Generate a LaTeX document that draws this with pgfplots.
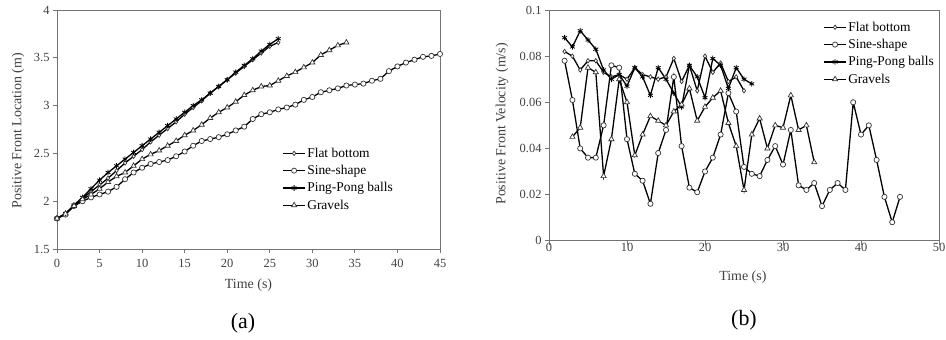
\documentclass[border=0pt]{standalone}
\usepackage{fontspec}
\setmainfont{Liberation Serif}
\usepackage{pgfplots}
\pgfplotsset{compat=1.18}
\pgfplotsset{
  common/.style={
    scale only axis,
    axis line style={black!55, line width=0.8bp},
    tick style={black!55, line width=0.8bp},
    tick align=outside, tick pos=left,
    major tick length=4bp,
    ticklabel style={font=\fontsize{12.5}{14}\selectfont, text=black!75},
    /pgf/number format/assume math mode=true,
    label style={font=\fontsize{14}{16}\selectfont, text=black!75},
    legend cell align=left,
    legend image code/.code={\draw[line width=1.4bp, black, mark repeat=2,mark phase=2,##1] plot coordinates {(0bp,0bp) (11bp,0bp) (22bp,0bp)};},
    every axis plot/.append style={line width=1.3bp, black},
  },
  flat/.style={mark=diamond*, mark size=2.2bp, mark options={draw=black!80, fill=white, line width=0.7bp}},
  sine/.style={mark=*, mark size=2.6bp, mark options={draw=black!80, fill=white, line width=0.7bp}},
  ping/.style={mark=asterisk, mark size=2.8bp, mark options={draw=black, line width=0.8bp}},
  grav/.style={mark=triangle*, mark size=3bp, mark options={draw=black!80, fill=white, line width=0.7bp}},
}
\begin{document}
\begin{tikzpicture}[x=1bp,y=1bp]
\path[use as bounding box] (0,0) rectangle (946,339);
\begin{axis}[common, at={(57bp,90bp)}, anchor=south west,
  width=383bp, height=239bp,
  xmin=0, xmax=45, ymin=1.5, ymax=4,
  xtick={0,5,...,45}, ytick={1.5,2,2.5,3,3.5,4},
  xticklabel style={yshift=-3bp},
  xlabel={Time (s)}, ylabel={Positive Front Location (m)},
  xlabel style={at={(axis description cs:0.5,-0.151)}, anchor=center},
  ylabel style={at={(axis description cs:-0.102,0.494)}, anchor=center},
  legend style={draw=none, fill=none, at={(rel axis cs:0.588,0.43)}, anchor=north west,
    font=\fontsize{13.5}{15}\selectfont, row sep=3.5bp, inner sep=0pt, nodes={inner sep=1.5bp}},
]
\addplot[flat] coordinates {(0,1.82)(1,1.87)(2,1.95)(3,2.03)(4,2.10)(5,2.17)(6,2.24)(7,2.32)(8,2.40)(9,2.47)(10,2.54)(11,2.62)(12,2.69)(13,2.76)(14,2.83)(15,2.91)(16,2.98)(17,3.05)(18,3.13)(19,3.20)(20,3.27)(21,3.34)(22,3.41)(23,3.48)(24,3.55)(25,3.62)(26,3.66)};
\addlegendentry{Flat bottom}
\addplot[sine] coordinates {(0,1.82)(1,1.86)(2,1.95)(3,2.00)(4,2.04)(5,2.07)(6,2.10)(7,2.15)(8,2.23)(9,2.30)(10,2.35)(11,2.39)(12,2.41)(13,2.43)(14,2.47)(15,2.52)(16,2.58)(17,2.63)(18,2.65)(19,2.67)(20,2.70)(21,2.74)(22,2.78)(23,2.86)(24,2.91)(25,2.93)(26,2.96)(27,2.98)(28,3.01)(29,3.06)(30,3.09)(31,3.14)(32,3.16)(33,3.18)(34,3.21)(35,3.22)(36,3.23)(37,3.26)(38,3.28)(39,3.36)(40,3.41)(41,3.45)(42,3.48)(43,3.51)(44,3.52)(45,3.54)};
\addlegendentry{Sine-shape}
\addplot[ping] coordinates {(0,1.82)(1,1.87)(2,1.96)(3,2.04)(4,2.13)(5,2.22)(6,2.30)(7,2.37)(8,2.44)(9,2.51)(10,2.58)(11,2.65)(12,2.72)(13,2.79)(14,2.86)(15,2.93)(16,3.00)(17,3.06)(18,3.13)(19,3.20)(20,3.27)(21,3.35)(22,3.42)(23,3.49)(24,3.57)(25,3.64)(26,3.70)};
\addlegendentry{Ping-Pong balls}
\addplot[grav] coordinates {(0,1.82)(1,1.87)(2,1.95)(3,2.02)(4,2.07)(5,2.13)(6,2.20)(7,2.26)(8,2.30)(9,2.37)(10,2.44)(11,2.49)(12,2.53)(13,2.58)(14,2.63)(15,2.69)(16,2.74)(17,2.80)(18,2.87)(19,2.93)(20,2.98)(21,3.04)(22,3.11)(23,3.16)(24,3.20)(25,3.21)(26,3.26)(27,3.31)(28,3.35)(29,3.40)(30,3.45)(31,3.53)(32,3.58)(33,3.63)(34,3.66)};
\addlegendentry{Gravels}
\end{axis}

\begin{axis}[common, at={(549bp,98.3bp)}, anchor=south west,
  width=390bp, height=230.7bp,
  xmin=0, xmax=50, ymin=0, ymax=0.1,
  xtick={0,10,20,30,40,50}, ytick={0,0.02,0.04,0.06,0.08,0.1},
  yticklabels={0,0.02,0.04,0.06,0.08,0.1},
  scaled y ticks=false,
  xticklabel style={yshift=5bp},
  xlabel={Time (s)}, ylabel={Positive Front Velocity (m/s)},
  xlabel style={at={(axis description cs:0.497,-0.157)}, anchor=center},
  ylabel style={at={(axis description cs:-0.1205,0.506)}, anchor=center},
  legend style={draw=none, fill=none, at={(rel axis cs:0.703,0.956)}, anchor=north west,
    font=\fontsize{13.5}{15}\selectfont, row sep=3.5bp, inner sep=0pt, nodes={inner sep=1.5bp}},
]
\addplot[flat] coordinates {(2,0.082)(3,0.080)(4,0.074)(5,0.078)(6,0.078)(7,0.073)(8,0.071)(9,0.072)(10,0.070)(11,0.075)(12,0.072)(13,0.071)(14,0.070)(15,0.071)(16,0.079)(17,0.069)(18,0.076)(19,0.065)(20,0.080)(21,0.073)(22,0.077)(23,0.069)(24,0.071)(25,0.065)};
\addlegendentry{Flat bottom}
\addplot[sine] coordinates {(2,0.078)(3,0.061)(4,0.040)(5,0.036)(6,0.036)(7,0.050)(8,0.076)(9,0.075)(10,0.044)(11,0.029)(12,0.026)(13,0.016)(14,0.038)(15,0.048)(16,0.071)(17,0.041)(18,0.023)(19,0.021)(20,0.030)(21,0.036)(22,0.046)(23,0.064)(24,0.056)(25,0.032)(26,0.029)(27,0.028)(28,0.035)(29,0.041)(30,0.033)(31,0.048)(32,0.024)(33,0.022)(34,0.025)(35,0.015)(36,0.022)(37,0.025)(38,0.022)(39,0.060)(40,0.046)(41,0.050)(42,0.035)(43,0.019)(44,0.008)(45,0.019)};
\addlegendentry{Sine-shape}
\addplot[ping] coordinates {(2,0.088)(3,0.084)(4,0.091)(5,0.087)(6,0.083)(7,0.074)(8,0.070)(9,0.072)(10,0.067)(11,0.075)(12,0.071)(13,0.063)(14,0.075)(15,0.070)(16,0.064)(17,0.058)(18,0.076)(19,0.071)(20,0.062)(21,0.079)(22,0.076)(23,0.066)(24,0.075)(25,0.070)(26,0.068)};
\addlegendentry{Ping-Pong balls}
\addplot[grav] coordinates {(3,0.045)(4,0.049)(5,0.075)(6,0.073)(7,0.028)(8,0.044)(9,0.070)(10,0.060)(11,0.037)(12,0.046)(13,0.054)(14,0.052)(15,0.050)(16,0.056)(17,0.059)(18,0.066)(19,0.052)(20,0.058)(21,0.062)(22,0.065)(23,0.051)(24,0.041)(25,0.022)(26,0.046)(27,0.053)(28,0.040)(29,0.050)(30,0.049)(31,0.063)(32,0.048)(33,0.050)(34,0.034)};
\addlegendentry{Gravels}
\end{axis}

\node[font=\fontsize{22}{26}\selectfont] at (243bp,16bp) {(a)};
\node[font=\fontsize{22}{26}\selectfont] at (744bp,19bp) {(b)};
\end{tikzpicture}
\end{document}
